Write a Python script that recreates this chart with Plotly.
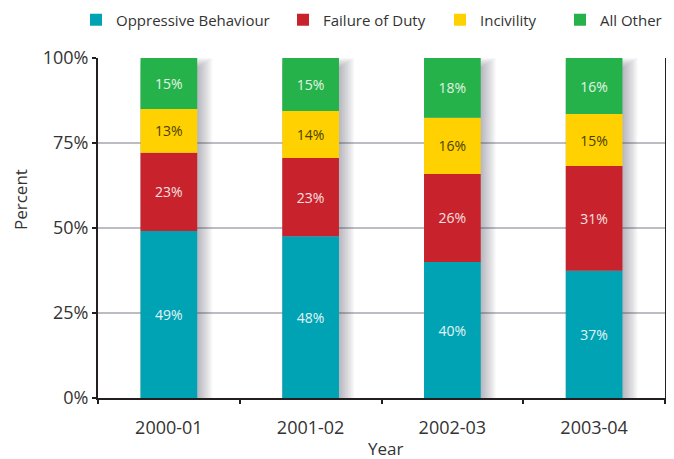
import plotly.graph_objects as go

years = ["2000-01", "2001-02", "2002-03", "2003-04"]
series_names = ["Oppressive Behaviour", "Failure of Duty", "Incivility", "All Other"]
oppressive = [49.1, 47.6, 40.0, 37.4]
failure = [23.0, 23.0, 25.9, 30.8]
incivility = [12.9, 13.8, 16.5, 15.3]
all_other = [15.0, 15.6, 17.6, 16.5]
oppressive_lbl = ["49%", "48%", "40%", "37%"]
failure_lbl = ["23%", "23%", "26%", "31%"]
incivility_lbl = ["13%", "14%", "16%", "15%"]
all_other_lbl = ["15%", "15%", "18%", "16%"]
y_ticks = [0, 25, 50, 75, 100]
y_tick_labels = ["0%", "25%", "50%", "75%", "100%"]

colors = ["#00A3B4", "#C8232C", "#FFD100", "#26B24B"]
text_colors = ["#e4f3f5", "#f6e0e0", "#4a3f00", "#e2f4e6"]
values = [oppressive, failure, incivility, all_other]
labels = [oppressive_lbl, failure_lbl, incivility_lbl, all_other_lbl]

FONT = "Open Sans"
W, H = 666, 451
ML, MR, MT, MB = 90, 9, 50, 61
PW, PH = W - ML - MR, H - MT - MB
BAR_W = 0.4
px_x = 1.0 / (PW / 4.0)      # category units per pixel
px_y = 100.0 / PH            # percent per pixel

fig = go.Figure()

# soft drop shadow to the right of each full bar (layered translucent rectangles)
totals = [sum(col) for col in zip(*values)]
for r in range(10, 0, -1):
    right_ext = 1.5 * r * px_x
    fig.add_trace(go.Bar(
        x=years, y=[t - (10 - r) * px_y + 3 * px_y for t in totals],
        base=[-3 * px_y] * len(years),
        width=BAR_W + right_ext, offset=-BAR_W / 2,
        marker=dict(color="rgba(70,70,85,0.045)", line=dict(width=0)),
        showlegend=False, hoverinfo="skip",
    ))

legend_names = ["legend", "legend2", "legend3", "legend4"]
cum = [0.0] * len(years)
for name, v, lbl, c, tc, lg in zip(series_names, values, labels, colors, text_colors, legend_names):
    fig.add_trace(go.Bar(
        x=years, y=v, base=list(cum), name=name, text=lbl, textposition="inside",
        insidetextanchor="middle", textangle=0, width=BAR_W,
        textfont=dict(family=FONT, size=14, color=tc),
        marker=dict(color=c, line=dict(width=0)),
        hoverinfo="skip", legend=lg,
    ))
    cum = [a + b for a, b in zip(cum, v)]

# legend placement (square left edges in figure pixels)
legend_sq_left = [82, 289, 446, 566]
leg_common = dict(orientation="h", xref="container", yref="container",
                  xanchor="left", yanchor="middle", y=1 - 12 / H,
                  bgcolor="rgba(0,0,0,0)", font=dict(family=FONT, size=15, color="#333333"))
legend_layout = {}
for lg, sx in zip(legend_names, legend_sq_left):
    legend_layout[lg] = dict(leg_common, x=(sx - 14) / W)

fig.update_layout(
    barmode="overlay",
    width=W, height=H,
    margin=dict(l=ML, r=MR, t=MT, b=MB, autoexpand=False),
    paper_bgcolor="white", plot_bgcolor="white",
    font=dict(family=FONT, color="#333333", size=15),
    showlegend=True,
    **legend_layout,
)
fig.update_xaxes(
    type="category",
    range=[-0.5, 3.5], showgrid=False, showline=True, linecolor="#231f20", linewidth=2,
    ticks="outside", tickson="boundaries", ticklen=4, tickwidth=2, tickcolor="#231f20",
    tickfont=dict(size=18, color="#333333"), ticklabelstandoff=12,
)
fig.update_yaxes(
    range=[0, 100], tickmode="array", tickvals=y_ticks, ticktext=y_tick_labels,
    showgrid=True, gridcolor="#bcbcc2", gridwidth=1.5,
    showline=True, linecolor="#231f20", linewidth=2, mirror=True,
    ticks="outside", ticklen=4, tickwidth=2, tickcolor="#231f20",
    tickfont=dict(size=18, color="#333333"),
    zeroline=False,
)
fig.add_annotation(text="Percent", textangle=-90, xref="paper", yref="paper",
                   x=(12 - ML) / PW, y=1 - (192 - MT) / PH, showarrow=False,
                   font=dict(size=17, color="#333333"), xanchor="center", yanchor="middle")
fig.add_annotation(text="Year", xref="paper", yref="paper",
                   x=(377 - ML) / PW, y=-(441 - (H - MB)) / PH, showarrow=False,
                   font=dict(size=17, color="#333333"), xanchor="center", yanchor="middle")
fig.write_html("out.html")
